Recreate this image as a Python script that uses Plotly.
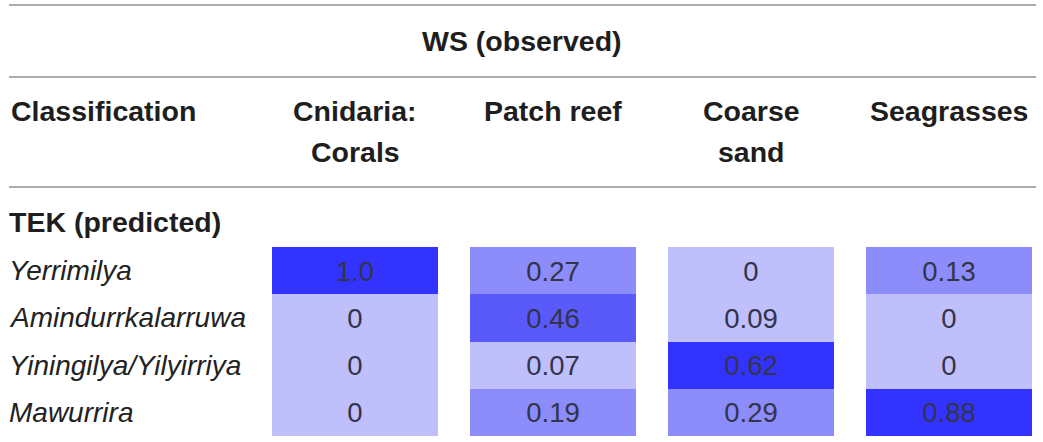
import plotly.graph_objects as go

# data
habitats = ["Cnidaria: Corals", "Patch reef", "Coarse sand", "Seagrasses"]
header_labels = ["Cnidaria:\nCorals", "Patch reef", "Coarse\nsand", "Seagrasses"]
tek_classes = ["Yerrimilya", "Amindurrkalarruwa", "Yiningilya/Yilyirriya", "Mawurrira"]
values = [
    [1.0, 0.27, 0.0, 0.13],
    [0.0, 0.46, 0.09, 0.0],
    [0.0, 0.07, 0.62, 0.0],
    [0.0, 0.19, 0.29, 0.88],
]
value_labels = [
    ["1.0", "0.27", "0", "0.13"],
    ["0", "0.46", "0.09", "0"],
    ["0", "0.07", "0.62", "0"],
    ["0", "0.19", "0.29", "0.88"],
]

W, H = 1043, 442
FONT = "Liberation Sans, Arial, sans-serif"
BOLD = 28.5
ITAL = 28


def py(p):
    # pixel row -> paper y
    return 1 - p / H


# stepped blue scale
c_light, c_mid, c_dark, c_max = "#bfbffb", "#8c8cfa", "#5a5afb", "#3333ff"
colorscale = [
    [0.0, c_light], [0.1, c_light],
    [0.1, c_mid], [0.4, c_mid],
    [0.4, c_dark], [0.55, c_dark],
    [0.55, c_max], [1.0, c_max],
]

fig = go.Figure()
fig.add_trace(go.Heatmap(
    z=values,
    x=habitats,
    y=tek_classes,
    text=value_labels,
    texttemplate="%{text}",
    textfont=dict(family=FONT, size=27.5, color="#33334a"),
    colorscale=colorscale,
    zmin=0, zmax=1,
    xgap=32, ygap=0,
    showscale=False,
    hoverinfo="skip",
))

anns = []
# top title
anns.append(dict(text="<b>WS (observed)</b>", x=522 / W, y=py(41), xref="paper", yref="paper",
                 xanchor="center", yanchor="middle", showarrow=False,
                 font=dict(family=FONT, size=BOLD, color="#1e1e1e")))
anns.append(dict(text="<b>Classification</b>", x=9 / W, y=py(111), xref="paper", yref="paper",
                 xanchor="left", yanchor="middle", showarrow=False,
                 font=dict(family=FONT, size=BOLD, color="#1e1e1e")))
anns.append(dict(text="<b>TEK (predicted)</b>", x=7 / W, y=py(222), xref="paper", yref="paper",
                 xanchor="left", yanchor="middle", showarrow=False,
                 font=dict(family=FONT, size=BOLD, color="#1e1e1e")))

# column headers, one annotation per line
for cat, lab in zip(habitats, header_labels):
    for i, line in enumerate(lab.split("\n")):
        anns.append(dict(text="<b>%s</b>" % line, x=cat, y=py(111 + 41 * i), xref="x", yref="paper",
                         xanchor="center", yanchor="middle", showarrow=False,
                         font=dict(family=FONT, size=BOLD, color="#1e1e1e")))

# row labels
for name in tek_classes:
    anns.append(dict(text="<i>%s</i>" % name, x=7 / W, y=name, xref="paper", yref="y",
                     xanchor="left", yanchor="middle", showarrow=False,
                     font=dict(family=FONT, size=ITAL, color="#222222")))

shapes = []
for yl in [5, 77, 187]:
    shapes.append(dict(type="line", xref="paper", yref="paper", x0=9 / W, x1=1036 / W,
                       y0=py(yl), y1=py(yl), line=dict(color="#8f8f8f", width=1.6)))

# column centre px = 355 + 198*i ; row centre px = 270.6 + 47.25*j
x0c, xp = 355, 198
y0c, yp = 270.6, 47.25
fig.update_layout(
    width=W, height=H,
    margin=dict(l=0, r=0, t=0, b=0),
    paper_bgcolor="white", plot_bgcolor="white",
    xaxis=dict(range=[-x0c / xp, (W - x0c) / xp], visible=False, fixedrange=True),
    yaxis=dict(range=[(H - y0c) / yp, -y0c / yp], visible=False, fixedrange=True),
    annotations=anns,
    shapes=shapes,
    showlegend=False,
)

fig.write_html("out.html", config={"displayModeBar": False},
               post_script="document.body.style.margin='0';")
